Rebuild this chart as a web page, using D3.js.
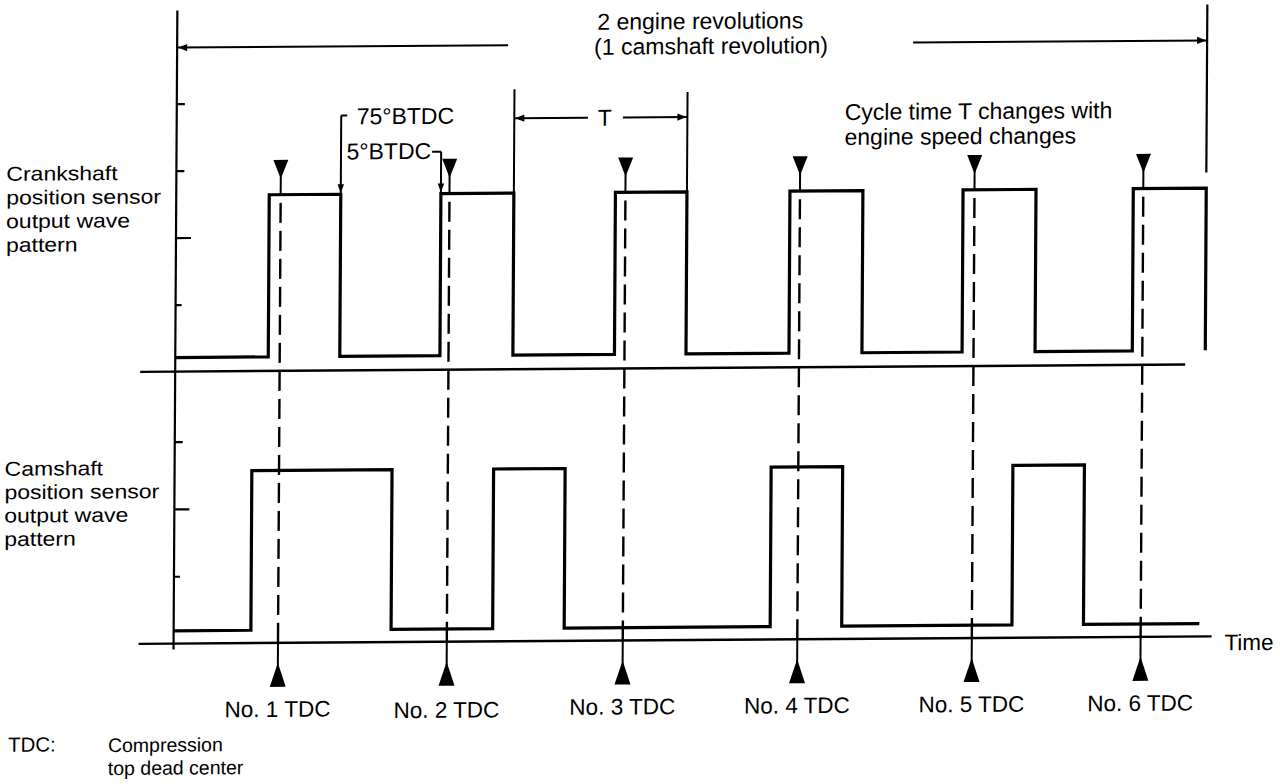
<!DOCTYPE html>
<html><head><meta charset="utf-8">
<script src="https://cdn.jsdelivr.net/npm/d3@7"></script>
<style>
body{margin:0;background:#fff}
svg{display:block}
text{font-family:"Liberation Sans",Arial,Helvetica,sans-serif;fill:#000}
</style></head><body>
<svg id="c" width="1280" height="784"></svg>
<script>
// ---------- data (crank angle in degrees, signal level in arbitrary units) ----------
const tdcAngles = [73, 191, 314, 436, 558, 676];
const tdcLabels = ["No. 1 TDC", "No. 2 TDC", "No. 3 TDC", "No. 4 TDC", "No. 5 TDC", "No. 6 TDC"];
const crankRise = [65, 185, 307, 429, 550, 669];
const crankFall = [115, 236, 357, 480, 601, 720];
const crankLow = 0.21, crankHigh = 2.63;
const camRise = [54, 223, 417, 586];
const camFall = [152, 273, 467, 636];
const camEnd = 717;
const camLow = 0.19, camHigh = 2.56;
const crankTicks = [1, 2, 3, 4];
const camTicks = [1, 2, 3];
const revolutionSpan = [0, 720];
const crankLabel = ["Crankshaft", "position sensor", "output wave", "pattern"];
const camLabel = ["Camshaft", "position sensor", "output wave", "pattern"];
const revLabel = ["2 engine revolutions", "(1 camshaft revolution)"];
const cycleLabel = ["Cycle time T changes with", "engine speed changes"];
const noteLabel = ["TDC:", "Compression", "top dead center"];

// ---------- scales ----------
const x = d3.scaleLinear().domain(revolutionSpan).range([175, 1205]);
const yCrank = d3.scaleLinear().domain([0, 4]).range([368, 100]);
const yCam = d3.scaleLinear().domain([0, 3]).range([640, 438]);

const svg = d3.select("#c");
// the scanned figure is slightly sheared
const g = svg.append("g").attr("transform", "matrix(1,-0.007,-0.006,1,2.4,4.83)");

const LW = 3.2;
function arrowHead(px, py, dir, len = 9, hw = 3.6) {
  let p;
  if (dir === 'l') p = [[px, py], [px + len, py - hw], [px + len, py + hw]];
  if (dir === 'r') p = [[px, py], [px - len, py - hw], [px - len, py + hw]];
  if (dir === 'd') p = [[px, py], [px - hw, py - len], [px + hw, py - len]];
  if (dir === 'u') p = [[px, py], [px - hw, py + len], [px + hw, py + len]];
  g.append("path").attr("d", "M" + p.map(q => q.join(",")).join("L") + "Z").attr("fill", "#000");
}
function line(x1, y1, x2, y2, w = 2.2, dash = null) {
  const l = g.append("line").attr("x1", x1).attr("y1", y1).attr("x2", x2).attr("y2", y2)
    .attr("stroke", "#000").attr("stroke-width", w);
  if (dash) l.attr("stroke-dasharray", dash);
  return l;
}

// ---------- axes ----------
line(x(0), 7, x(0), 646, 2.2);                     // vertical axis
line(140, yCrank(0), 1185, yCrank(0), 2.4);        // crank zero line
line(140, yCam(0), 1213, yCam(0), 2.4);            // time axis
const tickLen = v => (v === 2 ? 15 : (v === 1 ? 6 : 8));
const axCrank = d3.axisRight(yCrank).tickValues(crankTicks).tickSizeOuter(0).tickFormat("");
const axCam = d3.axisRight(yCam).tickValues(camTicks).tickSizeOuter(0).tickFormat("");
[axCrank, axCam].forEach(ax => {
  const a = g.append("g").attr("transform", `translate(${x(0)},0)`).call(ax);
  a.select(".domain").remove();
  a.selectAll(".tick line").attr("x2", d => tickLen(d)).attr("stroke", "#000").attr("stroke-width", 2.2);
});

// ---------- waveforms ----------
function stepPoints(rises, falls, low, high, end) {
  const pts = [[0, low]];
  rises.forEach((r, i) => { pts.push([r, high]); pts.push([falls[i], low]); });
  if (end !== undefined) pts.push([end, low]);
  return pts;
}
const crankPts = stepPoints(crankRise, crankFall, crankLow, crankHigh);
const camPts = stepPoints(camRise, camFall, camLow, camHigh, camEnd);
g.append("path").attr("d", d3.line().x(d => x(d[0])).y(d => yCrank(d[1])).curve(d3.curveStepAfter)(crankPts))
  .attr("fill", "none").attr("stroke", "#000").attr("stroke-width", LW).attr("stroke-linejoin", "miter");
g.append("path").attr("d", d3.line().x(d => x(d[0])).y(d => yCam(d[1])).curve(d3.curveStepAfter)(camPts))
  .attr("fill", "none").attr("stroke", "#000").attr("stroke-width", LW).attr("stroke-linejoin", "miter");

// ---------- TDC markers ----------
tdcAngles.forEach((a, i) => {
  const cx = x(a);
  const top = yCrank(crankHigh);
  line(cx, yCam(0), cx, top, 2.4, "20,8");
  g.append("path").attr("d", `M${cx - 7.5},157L${cx + 7.5},157L${cx},176Z`).attr("fill", "#000");
  line(cx, 170, cx, top, 2);
  line(cx, yCam(0), cx, 665, 2);
  g.append("path").attr("d", `M${cx - 8},684L${cx + 8},684L${cx},660Z`).attr("fill", "#000");
  g.append("text").attr("x", cx).attr("y", i === 1 ? 716 : 714).attr("text-anchor", "middle")
    .attr("font-size", 22.5).text(tdcLabels[i]);
});

// ---------- 2 engine revolutions ----------
const yRev = 44;
line(x(revolutionSpan[0]), yRev, 506, yRev, 2);
line(911, yRev, x(revolutionSpan[1]), yRev, 2);
arrowHead(x(revolutionSpan[0]) + 1, yRev, 'l');
arrowHead(x(revolutionSpan[1]) - 1, yRev, 'r');
line(x(revolutionSpan[1]), 8, x(revolutionSpan[1]), 176, 2.2);
g.append("text").attr("x", 698).attr("y", 29).attr("text-anchor", "middle").attr("font-size", 23).text(revLabel[0]);
g.append("text").attr("x", 709).attr("y", 54).attr("text-anchor", "middle").attr("font-size", 23).text(revLabel[1]);

// ---------- cycle time T ----------
const tx1 = x(crankFall[1]), tx2 = x(crankFall[2]), ty = 117;
line(tx1, 88, tx1, yCrank(crankHigh), 2);
line(tx2, 92, tx2, yCrank(crankHigh), 2);
const tm = (tx1 + tx2) / 2;
line(tx1, ty, tm - 13, ty, 2);
line(tm + 22, ty, tx2, ty, 2);
arrowHead(tx1 + 1, ty, 'l');
arrowHead(tx2 - 1, ty, 'r');
g.append("text").attr("x", tm + 4).attr("y", ty + 8).attr("text-anchor", "middle").attr("font-size", 23).text("T");

// ---------- BTDC annotations ----------
const b75 = x(crankFall[0]);
line(b75 + 6, 113, b75, 113, 2);
line(b75, 113, b75, yCrank(crankHigh) - 1, 2);
arrowHead(b75, yCrank(crankHigh) - 1, 'd', 9, 3.2);
g.append("text").attr("x", 355).attr("y", 122).attr("font-size", 23).text("75°BTDC");
const b5 = x(crankRise[1]);
line(b5 - 9, 150, b5, 150, 2);
line(b5, 150, b5, yCrank(crankHigh) - 1, 2);
arrowHead(b5, yCrank(crankHigh) - 1, 'd', 9, 3.2);
g.append("text").attr("x", b5 - 10).attr("y", 157).attr("text-anchor", "end").attr("font-size", 23).text("5°BTDC");

// ---------- cycle note ----------
cycleLabel.forEach((t, i) => g.append("text").attr("x", 843).attr("y", 121 + i * 25).attr("font-size", 23).text(t));

// ---------- left labels (wide, tightly set lines) ----------
function wideLabel(t, px, py) {
  const el = g.append("text").attr("x", px).attr("y", py).attr("font-size", 23).text(t);
  const w = el.node().getComputedTextLength();
  el.attr("font-size", 20).attr("textLength", w).attr("lengthAdjust", "spacingAndGlyphs");
}
crankLabel.forEach((t, i) => wideLabel(t, 5, 176 + i * 23.7));
camLabel.forEach((t, i) => wideLabel(t, 5, 471 + i * 23.4));

// ---------- time label & footnote ----------
g.append("text").attr("x", 1226).attr("y", 654).attr("font-size", 22.5).text("Time");
g.append("text").attr("x", 10).attr("y", 747).attr("font-size", 20.5).text(noteLabel[0]);
g.append("text").attr("x", 110).attr("y", 748).attr("font-size", 19.5).text(noteLabel[1]);
g.append("text").attr("x", 110).attr("y", 771).attr("font-size", 19.5).text(noteLabel[2]);
</script>
</body></html>
